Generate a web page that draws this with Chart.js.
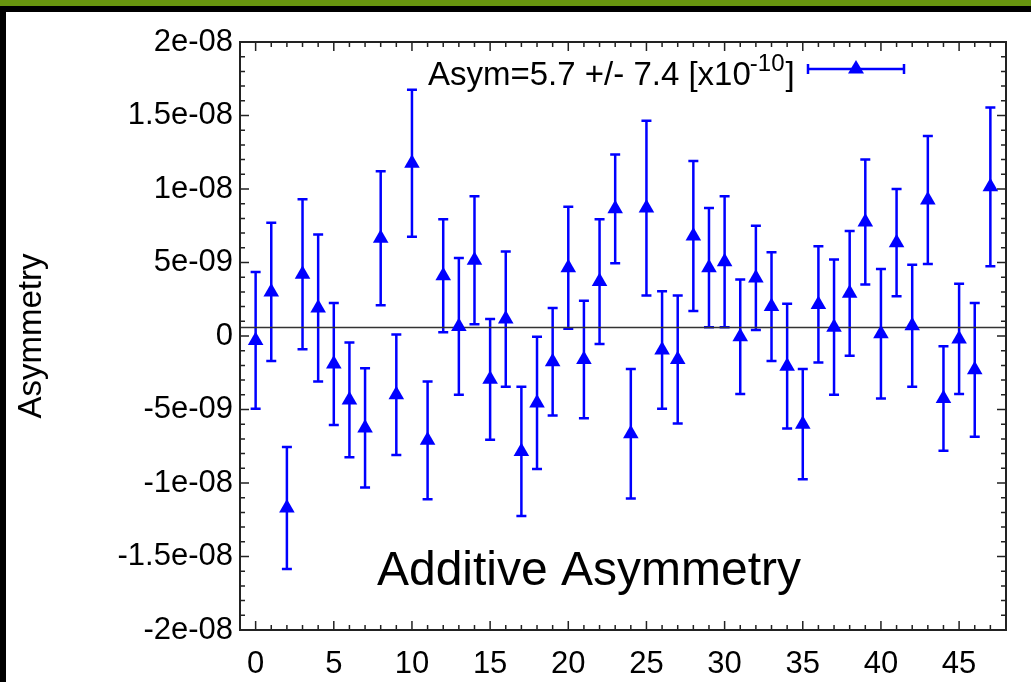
<!DOCTYPE html>
<html>
<head>
    <title>Additive Asymmetry</title>
    <script src="https://cdn.jsdelivr.net/npm/chart.js"></script>
    <style>
        body {
            margin: 0;
            background: #fff;
            font-family: "Liberation Sans", Arial, sans-serif;
        }
        .frame {
            position: absolute;
            left: 0;
            top: 0;
            width: 1031px;
            height: 682px;
            overflow: hidden;
        }
        .green-bar {
            position: absolute;
            left: 0; top: 0;
            width: 1031px; height: 6px;
            background: #68950f;
        }
        .black-top {
            position: absolute;
            left: 0; top: 6px;
            width: 1031px; height: 6px;
            background: #000;
        }
        .black-left {
            position: absolute;
            left: 0; top: 6px;
            width: 6px; height: 676px;
            background: #000;
        }
        .chart-box {
            position: absolute;
            left: 0; top: 0;
            width: 1031px; height: 682px;
        }
    </style>
</head>
<body>
<div class="frame">
    <div class="chart-box"><canvas id="asymChart"></canvas></div>
    <div class="green-bar"></div>
    <div class="black-top"></div>
    <div class="black-left"></div>
</div>

<script>
    // values are in units of 1e-9
    const unit = 1e-9;
    const runs = [0, 1, 2, 3, 4, 5, 6, 7, 8, 9, 10, 11, 12, 13, 14, 15, 16, 17, 18, 19, 20, 21, 22, 23,
                  24, 25, 26, 27, 28, 29, 30, 31, 32, 33, 34, 35, 36, 37, 38, 39, 40, 41, 42, 43, 44, 45, 46, 47];
    const asym = [-0.3, 3.0, -11.7, 4.2, 1.9, -1.9, -4.35, -6.25, 6.65, -4.0, 11.75, -7.1,
                  4.1, 0.65, 5.15, -2.95, 1.15, -7.85, -4.55, -1.75, 4.65, -1.6, 3.7, 8.65,
                  -6.65, 8.7, -0.95, -1.6, 6.8, 4.65, 5.05, -0.05, 3.95, 2.0, -2.05, -6.0,
                  2.15, 0.6, 2.9, 7.75, 0.15, 6.35, 0.7, 9.25, -4.25, -0.2, -2.3, 10.15];
    const asymErr = [4.65, 4.7, 4.15, 5.1, 5.0, 4.15, 3.9, 4.05, 4.55, 4.1, 5.0, 4.0,
                     3.85, 4.65, 4.35, 4.1, 4.6, 4.4, 4.5, 3.65, 4.15, 4.0, 4.25, 3.7,
                     4.4, 5.95, 4.0, 4.35, 5.1, 4.05, 4.45, 3.9, 3.55, 3.7, 4.25, 3.75,
                     3.95, 4.6, 4.25, 4.25, 4.4, 3.65, 4.15, 4.35, 3.55, 3.75, 4.55, 5.4];
    const fitValue = 0.57;   // Asym = 5.7e-10
    const legendText = 'Asym=5.7 +/- 7.4 [x10';
    const legendSup = '-10';

    const xTicks = [0, 5, 10, 15, 20, 25, 30, 35, 40, 45];
    const xTickLabels = ['0', '5', '10', '15', '20', '25', '30', '35', '40', '45'];
    const yTicks = [-2e-8, -1.5e-8, -1e-8, -5e-9, 0, 5e-9, 1e-8, 1.5e-8, 2e-8];
    const yTickLabels = ['-2e-08', '-1.5e-08', '-1e-08', '-5e-09', '0', '5e-09', '1e-08', '1.5e-08', '2e-08'];

    const xMin = -1, xMax = 48;
    const fontFamily = '"Liberation Sans", Arial, sans-serif';
    const blue = '#0000ff';

    // vertical error bars with caps, under the markers
    const errorBars = {
        id: 'errorBars',
        beforeDatasetsDraw(chart) {
            const {ctx, scales: {x, y}} = chart;
            ctx.save();
            ctx.strokeStyle = blue;
            ctx.lineWidth = 2.5;
            runs.forEach((r, i) => {
                const px = x.getPixelForValue(r);
                const top = y.getPixelForValue((asym[i] + asymErr[i]) * unit);
                const bot = y.getPixelForValue((asym[i] - asymErr[i]) * unit);
                ctx.beginPath();
                ctx.moveTo(px, top);
                ctx.lineTo(px, bot);
                ctx.moveTo(px - 5, top);
                ctx.lineTo(px + 5, top);
                ctx.moveTo(px - 5, bot);
                ctx.lineTo(px + 5, bot);
                ctx.stroke();
            });
            ctx.restore();
        }
    };

    // gnuplot-like frame with inward ticks on all sides, plus legend and label
    const frame = {
        id: 'frame',
        afterDraw(chart) {
            const {ctx, chartArea: a, scales: {x, y}} = chart;
            ctx.save();
            ctx.strokeStyle = '#222';
            ctx.lineWidth = 1.5;
            ctx.beginPath();
            for (let v = xMin; v <= xMax; v++) {
                const px = x.getPixelForValue(v);
                const len = v % 5 === 0 ? 9 : 5;
                ctx.moveTo(px, a.bottom);
                ctx.lineTo(px, a.bottom - len);
                ctx.moveTo(px, a.top);
                ctx.lineTo(px, a.top + len);
            }
            for (let k = -20; k <= 20; k++) {
                const py = y.getPixelForValue(k * unit);
                const len = k % 5 === 0 ? 9 : 5;
                ctx.moveTo(a.left, py);
                ctx.lineTo(a.left + len, py);
                ctx.moveTo(a.right, py);
                ctx.lineTo(a.right - len, py);
            }
            ctx.stroke();
            ctx.lineWidth = 2;
            ctx.strokeRect(a.left, a.top, a.right - a.left, a.bottom - a.top);

            // legend
            ctx.fillStyle = '#000';
            ctx.textBaseline = 'alphabetic';
            ctx.textAlign = 'left';
            ctx.font = '33px ' + fontFamily;
            let tx = 428;
            ctx.fillText(legendText, tx, 85);
            tx += ctx.measureText(legendText).width;
            ctx.font = '24px ' + fontFamily;
            ctx.fillText(legendSup, tx - 1, 71);
            tx += ctx.measureText(legendSup).width;
            ctx.font = '33px ' + fontFamily;
            ctx.fillText(']', tx, 85);

            ctx.strokeStyle = blue;
            ctx.lineWidth = 2.5;
            ctx.beginPath();
            ctx.moveTo(808, 69);
            ctx.lineTo(904, 69);
            ctx.moveTo(808, 64);
            ctx.lineTo(808, 74);
            ctx.moveTo(904, 64);
            ctx.lineTo(904, 74);
            ctx.stroke();
            ctx.fillStyle = blue;
            ctx.beginPath();
            ctx.moveTo(856, 60);
            ctx.lineTo(864, 73.5);
            ctx.lineTo(848, 73.5);
            ctx.closePath();
            ctx.fill();

            ctx.fillStyle = '#000';
            ctx.font = '48px ' + fontFamily;
            ctx.textAlign = 'center';
            ctx.fillText('Additive Asymmetry', 589, 585);
            ctx.restore();
        }
    };

    const ctx = document.getElementById('asymChart').getContext('2d');
    const asymChart = new Chart(ctx, {
        type: 'scatter',
        data: {
            datasets: [
                {
                    label: 'fit',
                    type: 'line',
                    data: [{x: xMin, y: fitValue * unit}, {x: xMax, y: fitValue * unit}],
                    borderColor: '#333',
                    borderWidth: 1.5,
                    pointRadius: 0,
                    order: 2
                },
                {
                    label: 'Asym',
                    data: runs.map((r, i) => ({x: r, y: asym[i] * unit})),
                    pointStyle: 'triangle',
                    pointRadius: 9,
                    pointHoverRadius: 9,
                    backgroundColor: blue,
                    borderColor: blue,
                    borderWidth: 0,
                    order: 1
                }
            ]
        },
        options: {
            responsive: true,
            maintainAspectRatio: false,
            animation: false,
            layout: {
                padding: {top: 42, right: 25, left: 0, bottom: 0}
            },
            plugins: {
                legend: {display: false},
                tooltip: {enabled: false}
            },
            scales: {
                x: {
                    type: 'linear',
                    min: xMin,
                    max: xMax,
                    grid: {display: false, drawTicks: false},
                    border: {display: false},
                    ticks: {
                        color: '#000',
                        font: {family: fontFamily, size: 31},
                        padding: 16,
                        maxRotation: 0,
                        callback: (value, index) => xTickLabels[index]
                    },
                    afterBuildTicks: scale => {
                        scale.ticks = xTicks.map(v => ({value: v}));
                    },
                    afterFit: scale => {
                        scale.height = 52;
                    }
                },
                y: {
                    min: yTicks[0],
                    max: yTicks[yTicks.length - 1],
                    grid: {display: false, drawTicks: false},
                    border: {display: false},
                    ticks: {
                        color: '#000',
                        font: {family: fontFamily, size: 31},
                        padding: 7,
                        callback: (value, index) => yTickLabels[index]
                    },
                    afterBuildTicks: scale => {
                        scale.ticks = yTicks.map(v => ({value: v}));
                    },
                    afterFit: scale => {
                        scale.width = 240;
                    },
                    title: {
                        display: true,
                        text: 'Asymmetry',
                        color: '#000',
                        font: {family: fontFamily, size: 33},
                        padding: {top: 12}
                    }
                }
            }
        },
        plugins: [errorBars, frame]
    });
</script>
</body>
</html>
